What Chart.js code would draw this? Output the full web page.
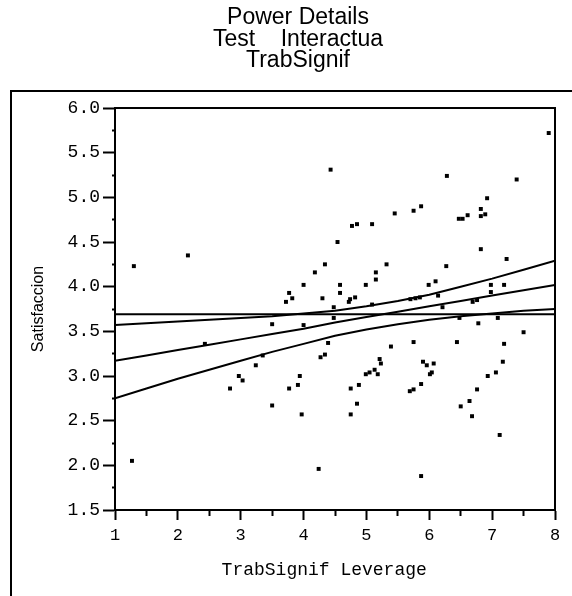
<!DOCTYPE html>
<html>
<head>
<meta charset="utf-8">
<style>
  html, body { margin: 0; padding: 0; background: #fff; }
  #wrap { width: 572px; height: 596px; }
</style>
<script src="https://cdn.jsdelivr.net/npm/chart.js@4.4.1/dist/chart.umd.min.js"></script>
</head>
<body>
<div id="wrap"><canvas id="chart" width="572" height="596"></canvas></div>
<script>
// leverage residual points
const leverageX = [
  1.30, 2.16, 1.27, 2.43, 2.83, 2.97, 3.03, 3.24, 3.35, 4.43,
  5.45, 5.75, 4.77, 4.85, 5.09, 4.54, 4.34, 5.32, 4.18, 5.15,
  5.15, 4.00, 4.58, 4.58, 4.99, 4.30, 3.77, 3.82, 3.72, 4.74,
  4.82, 4.48, 7.90, 6.28, 7.39, 5.87, 6.92, 6.82, 6.89, 6.82,
  6.47, 6.53, 6.61, 6.82, 7.23, 6.27, 6.10, 5.99, 6.98, 7.19,
  6.98, 6.14, 5.70, 5.78, 5.85, 6.76, 6.69, 4.72, 4.48, 3.50,
  4.00, 4.39, 4.27, 4.34, 5.39, 5.75, 3.94, 3.77, 3.91, 3.50,
  3.97, 4.24, 4.75, 4.88, 4.75, 4.85, 4.99, 5.05, 5.13, 5.18,
  5.21, 5.23, 5.69, 5.75, 6.78, 6.48, 7.09, 6.21, 7.50, 6.44,
  7.19, 5.90, 5.96, 6.07, 6.01, 6.04, 5.87, 7.17, 7.06, 6.93,
  6.76, 6.64, 6.50, 6.68, 7.12, 5.87, 5.09
];
const satisfaccion = [
  4.23, 4.35, 2.05, 3.36, 2.86, 3.00, 2.95, 3.12, 3.23, 5.31,
  4.82, 4.85, 4.68, 4.70, 4.70, 4.50, 4.25, 4.25, 4.16, 4.16,
  4.08, 4.02, 4.02, 3.93, 4.02, 3.87, 3.93, 3.87, 3.83, 3.86,
  3.88, 3.77, 5.72, 5.24, 5.20, 4.90, 4.99, 4.87, 4.81, 4.79,
  4.76, 4.76, 4.80, 4.42, 4.31, 4.23, 4.06, 4.02, 4.02, 4.02,
  3.94, 3.90, 3.86, 3.87, 3.88, 3.85, 3.83, 3.83, 3.65, 3.58,
  3.57, 3.37, 3.21, 3.24, 3.33, 3.38, 3.00, 2.86, 2.90, 2.67,
  2.57, 1.96, 2.86, 2.90, 2.57, 2.69, 3.02, 3.04, 3.07, 3.02,
  3.19, 3.14, 2.83, 2.85, 3.59, 3.65, 3.65, 3.77, 3.49, 3.38,
  3.36, 3.16, 3.12, 3.14, 3.02, 3.04, 2.91, 3.16, 3.04, 3.00,
  2.85, 2.72, 2.66, 2.55, 2.34, 1.88, 3.80
];

// fitted line and confidence curves, read along x
const curveX = [1, 1.5, 2, 2.5, 3, 3.5, 4, 4.5, 5, 5.5, 6, 6.5, 7, 7.5, 8];
const fitY   = [3.17, 3.23, 3.29, 3.35, 3.41, 3.47, 3.53, 3.60, 3.66, 3.72, 3.78, 3.84, 3.90, 3.96, 4.02];
const upperY = [3.57, 3.59, 3.61, 3.63, 3.65, 3.67, 3.70, 3.73, 3.78, 3.84, 3.91, 4.00, 4.09, 4.19, 4.29];
const lowerY = [2.75, 2.86, 2.97, 3.07, 3.17, 3.27, 3.36, 3.45, 3.52, 3.58, 3.63, 3.67, 3.70, 3.73, 3.75];
const meanX = [1, 8];
const meanY = [3.69, 3.69];

const titleLines = ['Power Details', 'Test    Interactua', 'TrabSignif'];

const sans = "'Liberation Sans', Arial, sans-serif";
const mono = "'Courier New', 'Liberation Mono', monospace";

const toPoints = (xs, ys) => xs.map((x, i) => ({ x: x, y: ys[i] }));

const lineSet = (xs, ys) => ({
    type: 'line',
    data: toPoints(xs, ys),
    borderColor: '#000',
    borderWidth: 2,
    pointRadius: 0,
    fill: false,
    tension: 0
});

const framePlugin = {
    id: 'frame',
    beforeDraw(chart) {
        const ctx = chart.ctx;
        const a = chart.chartArea;
        ctx.save();
        ctx.strokeStyle = '#000';
        ctx.lineWidth = 2;
        ctx.beginPath();
        ctx.moveTo(11, 596);
        ctx.lineTo(11, 91);
        ctx.lineTo(572, 91);
        ctx.stroke();
        ctx.strokeRect(a.left, a.top, a.right - a.left, a.bottom - a.top);
        ctx.restore();
    }
};

const isMajor = (v, step) => Math.abs(v / step - Math.round(v / step)) < 1e-6;

new Chart(document.getElementById('chart').getContext('2d'), {
    type: 'scatter',
    data: {
        datasets: [
            {
                data: toPoints(leverageX, satisfaccion),
                backgroundColor: '#000',
                borderWidth: 0,
                pointStyle: 'rect',
                pointRadius: 2.8
            },
            lineSet(meanX, meanY),
            lineSet(curveX, upperY),
            lineSet(curveX, fitY),
            lineSet(curveX, lowerY)
        ]
    },
    options: {
        responsive: false,
        animation: false,
        layout: { padding: { left: 41, right: 17, top: 0, bottom: 0 } },
        plugins: {
            legend: { display: false },
            tooltip: { enabled: false },
            title: {
                display: true,
                text: titleLines,
                color: '#000',
                font: { family: sans, size: 23, weight: 'normal', lineHeight: 0.935 },
                padding: { top: 7, bottom: 36.5 }
            }
        },
        scales: {
            x: {
                type: 'linear',
                min: 1,
                max: 8,
                afterFit: s => { s.height = 86; },
                ticks: {
                    stepSize: 0.5,
                    autoSkip: false,
                    maxRotation: 0,
                    padding: 5,
                    color: '#000',
                    font: { family: mono, size: 17 },
                    callback: v => isMajor(v, 1) ? String(v) : ''
                },
                grid: {
                    drawOnChartArea: false,
                    tickLength: 10,
                    tickWidth: 2,
                    tickColor: '#000',
                    tickBorderDash: c => (c.tick && isMajor(c.tick.value, 1)) ? [] : [5, 30]
                },
                border: { color: '#000', width: 2 },
                title: {
                    display: true,
                    text: 'TrabSignif Leverage  ',
                    color: '#000',
                    font: { family: mono, size: 18 },
                    padding: { top: 0, bottom: 15 }
                }
            },
            y: {
                min: 1.5,
                max: 6.0,
                afterFit: s => { s.width = 74; },
                ticks: {
                    stepSize: 0.25,
                    autoSkip: false,
                    padding: 3,
                    color: '#000',
                    font: { family: mono, size: 18 },
                    callback: v => isMajor(v, 0.5) ? v.toFixed(1) : ''
                },
                grid: {
                    drawOnChartArea: false,
                    tickLength: 12,
                    tickWidth: 2,
                    tickColor: '#000',
                    tickBorderDash: c => (c.tick && isMajor(c.tick.value, 0.5)) ? [] : [0, 9, 3, 30]
                },
                border: { color: '#000', width: 2 },
                title: {
                    display: true,
                    text: 'Satisfaccion',
                    color: '#000',
                    font: { family: sans, size: 16 },
                    padding: { top: -12, bottom: 0 }
                }
            }
        }
    },
    plugins: [framePlugin]
});
</script>
</body>
</html>
